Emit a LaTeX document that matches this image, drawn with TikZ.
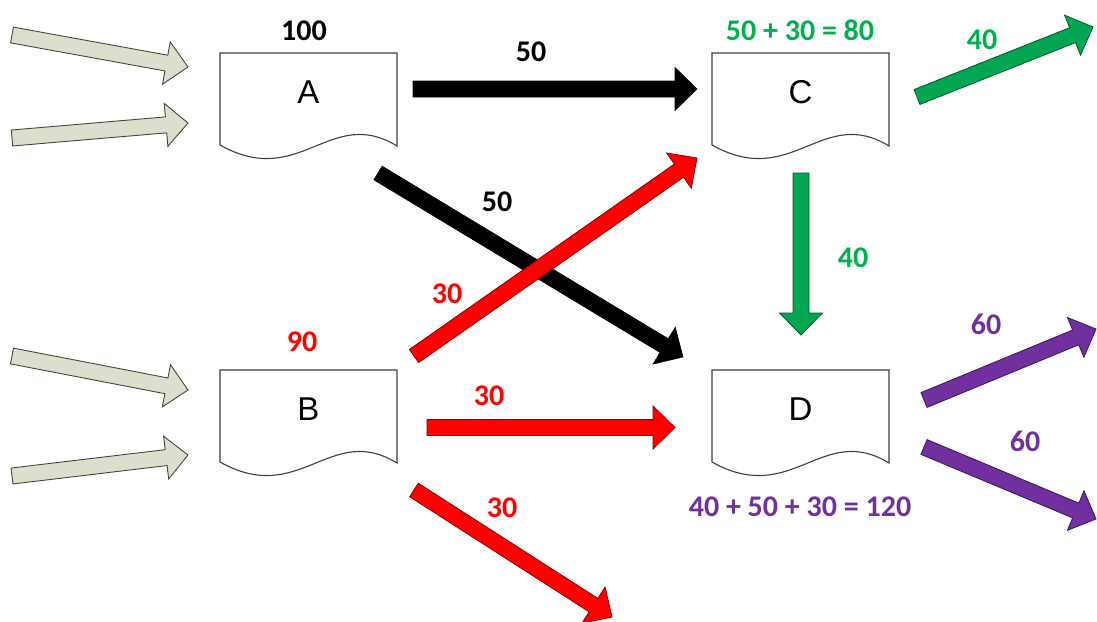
\documentclass[tikz,border=0pt]{standalone}
\usepackage{fontspec}
\setmainfont{Carlito}
\newfontfamily\letterfont{Liberation Sans}
\usetikzlibrary{calc}

\definecolor{inflow}{RGB}{221,222,206}
\definecolor{inflowline}{RGB}{70,70,60}
\definecolor{flowred}{RGB}{255,0,0}
\definecolor{redline}{RGB}{140,0,0}
\definecolor{flowgreen}{RGB}{0,166,81}
\definecolor{greenline}{RGB}{0,90,40}
\definecolor{textgreen}{RGB}{0,176,80}
\definecolor{flowpurple}{RGB}{112,48,160}
\definecolor{purpleline}{RGB}{60,20,90}

% block arrow from #2 (tail centre) to #3 (tip)
\newcommand\blockarrow[3][]{%
  \coordinate (ba-back) at ($(#3)!22pt!(#2)$);
  \draw[#1] ($(#2)!8pt!90:(#3)$) -- ($(ba-back)!8pt!90:(#3)$)
    -- ($(ba-back)!21.5pt!90:(#3)$) -- (#3)
    -- ($(ba-back)!21.5pt!-90:(#3)$) -- ($(ba-back)!8pt!-90:(#3)$)
    -- ($(#2)!8pt!-90:(#3)$) -- cycle;}

% document outline around a letter node
\newcommand\docoutline[1]{%
  \draw[docline] ([shift={(-88.5,-39)}]#1.center) -- ([shift={(88.5,-39)}]#1.center)
    -- ([shift={(88.5,54)}]#1.center)
    .. controls ([shift={(21.5,13)}]#1.center) and ([shift={(-8.5,98)}]#1.center)
    .. ([shift={(-88.5,53)}]#1.center) -- cycle;}

\begin{document}
\begin{tikzpicture}[x=1pt,y=-1pt,
  docline/.style={draw=black!75, line width=1.1pt, line join=miter},
  lettr/.style={font=\letterfont\fontsize{33}{36}\selectfont, inner sep=0pt},
  num/.style={font=\bfseries\fontsize{30}{33}\selectfont, inner sep=0pt},
  grayarrow/.style={fill=inflow, draw=inflowline, line width=0.9pt},
  blackarrow/.style={fill=black, draw=black, line width=0.6pt},
  redarrow/.style={fill=flowred, draw=redline, line width=0.8pt},
  greenarrow/.style={fill=flowgreen, draw=greenline, line width=0.8pt},
  purplearrow/.style={fill=flowpurple, draw=purpleline, line width=0.8pt}]

\useasboundingbox[fill=white] (0,0) rectangle (1097,621);

% documents
\node[lettr] (A) at (308.5,92) {A};
\node[lettr] (B) at (308.5,409) {B};
\node[lettr] (C) at (800.5,92) {C};
\node[lettr] (D) at (800.5,409) {D};
\docoutline{A}
\docoutline{B}
\docoutline{C}
\docoutline{D}

% arrow end points
\coordinate (g1s) at (12,35);   \coordinate (g1e) at (188,67);
\coordinate (g2s) at (12,138);  \coordinate (g2e) at (188,123);
\coordinate (g3s) at (12,356);  \coordinate (g3e) at (188,390);
\coordinate (g4s) at (12,476);  \coordinate (g4e) at (188,455);
\coordinate (acs) at (413,89);  \coordinate (ace) at (697,89);
\coordinate (ads) at (378,173); \coordinate (ade) at (683,357);
\coordinate (bcs) at (414,356); \coordinate (bce) at (697,158);
\coordinate (bds) at (427,427.5); \coordinate (bde) at (675,427.5);
\coordinate (bos) at (414,490); \coordinate (boe) at (612,617);
\coordinate (cos) at (917,97);  \coordinate (coe) at (1093,27);
\coordinate (cds) at (801,173); \coordinate (cde) at (801,335);
\coordinate (p1s) at (924,400); \coordinate (p1e) at (1096,329);
\coordinate (p2s) at (924,447); \coordinate (p2e) at (1096,519);

% inflows
\blockarrow[grayarrow]{g1s}{g1e}
\blockarrow[grayarrow]{g2s}{g2e}
\blockarrow[grayarrow]{g3s}{g3e}
\blockarrow[grayarrow]{g4s}{g4e}

% flows between documents
\blockarrow[blackarrow]{acs}{ace}
\blockarrow[blackarrow]{ads}{ade}
\blockarrow[redarrow]{bcs}{bce}
\blockarrow[redarrow]{bds}{bde}
\blockarrow[redarrow]{bos}{boe}
\blockarrow[greenarrow]{cos}{coe}
\blockarrow[greenarrow]{cds}{cde}
\blockarrow[purplearrow]{p1s}{p1e}
\blockarrow[purplearrow]{p2s}{p2e}

% quantities
\node[num, text=black] (qA) at (304,31) {100};
\node[num, text=black] (qAC) at (531,52) {50};
\node[num, text=black] (qAD) at (497,202) {50};
\node[num, text=textgreen] (qC) at (800,30) {50 + 30 = 80};
\node[num, text=textgreen] (qCo) at (982,40) {40};
\node[num, text=textgreen] (qCD) at (853,258) {40};
\node[num, text=flowred] (qB) at (302,342) {90};
\node[num, text=flowred] (qBC) at (447,294) {30};
\node[num, text=flowred] (qBD) at (489,396) {30};
\node[num, text=flowred] (qBo) at (502,508) {30};
\node[num, text=flowpurple] (qD1) at (986,324) {60};
\node[num, text=flowpurple] (qD2) at (1025,441) {60};
\node[num, text=flowpurple] (qD) at (800,507) {40 + 50 + 30 = 120};
\end{tikzpicture}
\end{document}
